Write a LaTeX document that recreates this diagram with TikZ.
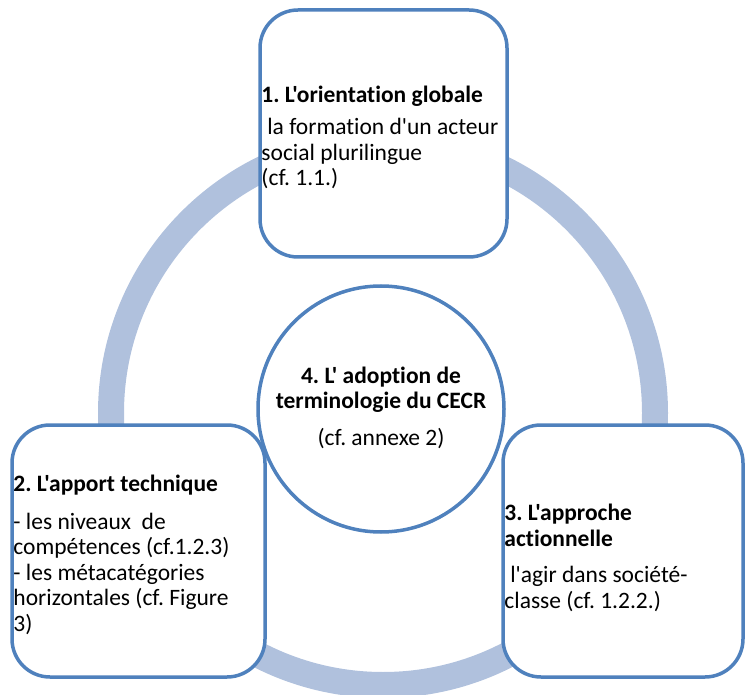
\documentclass[tikz,border=0pt]{standalone}
\usepackage{fontspec}
\setmainfont{Carlito}[Ligatures={CommonOff,TeXOff}]
\definecolor{boxblue}{HTML}{4F81BD}
\definecolor{ringblue}{HTML}{B0C1DD}
\begin{document}
\frenchspacing
\begin{tikzpicture}[x=1pt,y=-1pt,
  ring/.style={draw=ringblue,line width=26pt},
  cardbox/.style={draw=boxblue,line width=3.5pt,fill=white,rounded corners=38pt,
    rectangle,inner sep=0pt},
  cardtext/.style={anchor=west,inner sep=0pt,align=left,
    font=\fontsize{23.5}{25.5}\selectfont\frenchspacing},
  centrecircle/.style={draw=boxblue,line width=3.5pt,circle,minimum size=246pt,
    inner sep=0pt},
  centretext/.style={align=center,inner sep=0pt,font=\fontsize{23.5}{25.5}\selectfont\frenchspacing}]
\useasboundingbox (0,0) rectangle (745,695);
\clip (0,0) rectangle (745,695);
\draw[ring] (383,413) circle[radius=272pt];
\node[cardbox,minimum width=247pt,minimum height=247pt] (b1) at (383.5,133.5) {};
\node[cardtext] (t1) at ([xshift=3pt,yshift=-4pt]b1.west)
  {\textbf{1. L'orientation globale}\\[7pt]
   \hspace{0.25em}la formation d'un acteur\\
   social plurilingue\\
   (cf. 1.1.)};
\node[cardbox,minimum width=253pt,minimum height=252pt] (b2) at (138.5,551) {};
\node[cardtext] (t2) at ([xshift=3pt,yshift=-4pt]b2.west)
  {\textbf{2. L'apport technique}\\[12pt]
   - les niveaux\ \ de\\
   compétences (cf.1.2.3)\\
   - les métacatégories\\
   horizontales (cf. Figure\\
   3)};
\node[cardbox,minimum width=240pt,minimum height=252pt] (b3) at (623,551) {};
\node[cardtext] (t3) at ([xshift=3pt,yshift=-7pt]b3.west)
  {\textbf{3. L'approche}\\
   \textbf{actionnelle}\\[11pt]
   \hspace{0.25em}l'agir dans société-\\
   classe (cf. 1.2.2.)};
\node[centrecircle] (c4) at (381,409) {};
\node[centretext,anchor=base] (c4t) at (381,445)
  {\textbf{4. L' adoption de}\\
   \textbf{terminologie du CECR}\\[11pt]
   (cf. annexe 2)};
\end{tikzpicture}
\end{document}
